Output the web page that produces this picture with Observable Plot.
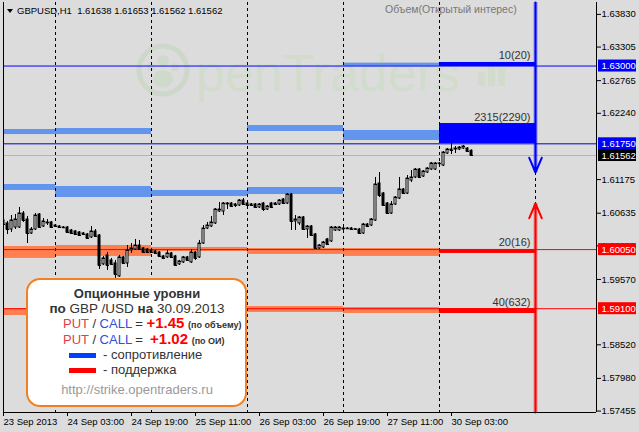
<!DOCTYPE html>
<html><head><meta charset="utf-8">
<script src="https://cdn.jsdelivr.net/npm/d3@7"></script>
<script src="https://cdn.jsdelivr.net/npm/@observablehq/plot@0.6"></script>
<style>
html,body{margin:0;padding:0;background:#dcdcdc;}
#wrap{position:relative;width:639px;height:432px;overflow:hidden;background:#dcdcdc;font-family:"Liberation Sans",Arial,sans-serif;}
#wm{position:absolute;left:0;top:0;}
#chart{position:absolute;left:0;top:0;}
.abs{position:absolute;white-space:nowrap;}
.abs b{line-height:14px;}
</style></head><body>
<div id="wrap">
<svg id="wm" width="639" height="432">
  <g opacity="0.55">
    <circle cx="163" cy="70" r="24" fill="none" stroke="#c4d6bc" stroke-width="5"/>
    <circle cx="163" cy="61" r="6" fill="#c8dac0"/>
    <circle cx="151" cy="67" r="4" fill="#c8dac0"/>
    <circle cx="175" cy="67" r="4" fill="#c8dac0"/>
    <ellipse cx="163" cy="79" rx="10" ry="9" fill="#c8dac0"/>
    <text x="196" y="91" font-family="Liberation Sans, Arial" font-size="52" fill="#cadcc2">penTraders</text>
    <rect x="478" y="72" width="7" height="14" fill="#cadcc2"/>
    <rect x="488" y="64" width="7" height="22" fill="#cadcc2"/>
    <rect x="498" y="68" width="7" height="18" fill="#cadcc2"/>
  </g>
</svg>
<div id="chart"></div>
<div class="abs" style="left:7px;top:9px;width:0;height:0;border-left:3.5px solid transparent;border-right:3.5px solid transparent;border-top:4px solid #000;"></div>
<div class="abs" style="left:17px;top:5px;font-size:9.5px;line-height:12px;color:#000">GBPUSD,H1&nbsp; 1.61638 1.61653 1.61562 1.61562</div>
<div class="abs" style="left:385px;top:3px;font-size:10.5px;line-height:12px;color:#777">Объем(Открытый интерес)</div>

<div class="abs" style="left:26px;top:278px;width:217px;height:125px;border:2.5px solid #f28022;border-radius:14px;background:#fff;"></div>
<div class="abs" style="left:26px;width:222px;top:286px;text-align:center;font-weight:bold;font-size:13px;line-height:16px;color:#333">Опционные уровни</div>
<div class="abs" style="left:26px;width:222px;top:301px;text-align:center;font-size:13.5px;line-height:16px;color:#333"><b>по</b> GBP /USD <b>на</b> 30.09.2013</div>
<div class="abs" style="left:63px;top:316px;font-size:13px;line-height:15px;color:#333"><span style="color:#e04048">PUT</span> / <span style="color:#3050d8">CALL</span> = <b style="color:#ff0000;font-size:15px">+1.45</b> <b style="font-size:9px">(по объему)</b></div>
<div class="abs" style="left:63px;top:332px;font-size:13px;line-height:15px;color:#333"><span style="color:#e04048">PUT</span> / <span style="color:#3050d8">CALL</span> = &nbsp;<b style="color:#ff0000;font-size:15px">+1.02</b> <b style="font-size:9px">(по ОИ)</b></div>
<div class="abs" style="left:69px;top:353px;width:27px;height:5px;background:#0040ff"></div>
<div class="abs" style="left:103px;top:347px;font-size:13px;line-height:16px;color:#333">- сопротивление</div>
<div class="abs" style="left:69px;top:368px;width:27px;height:5px;background:#ff0000"></div>
<div class="abs" style="left:103px;top:362px;font-size:13px;line-height:16px;color:#333">- поддержка</div>
<div class="abs" style="left:26px;width:222px;top:382px;text-align:center;font-size:13px;line-height:16px;color:#999">http://strike.opentraders.ru</div>
</div>
<script>
// Bar index 0 = 24 Sep 2013 00:00 (H1 bars, weekend removed)
const firstBar = -13;
const open = [
1.60518,1.60470,1.60373,1.60405,1.60405,1.60630,1.60534,1.60309,1.60373,1.60614,
1.60421,1.60470,1.60486,1.60437,1.60421,1.60405,1.60405,1.60357,1.60341,1.60325,
1.60309,1.60293,1.60245,1.60341,1.60277,1.59812,1.59956,1.59876,1.59828,1.59619,
1.59924,1.59828,1.60036,1.60052,1.60116,1.60068,1.60052,1.60036,1.60020,1.60004,
1.59940,1.59924,1.59988,1.59940,1.59812,1.59844,1.59924,1.59844,1.60004,1.59924,
1.60148,1.60389,1.60421,1.60470,1.60662,1.60662,1.60775,1.60791,1.60775,1.60759,
1.60839,1.60791,1.60775,1.60775,1.60727,1.60791,1.60694,1.60791,1.60791,1.60775,
1.60855,1.60791,1.60935,1.60502,1.60470,1.60566,1.60373,1.60421,1.60293,1.60068,
1.60084,1.60213,1.60181,1.60357,1.60357,1.60373,1.60389,1.60389,1.60373,1.60373,
1.60309,1.60453,1.60437,1.60518,1.61112,1.60951,1.60791,1.60630,1.60775,1.60871,
1.61016,1.60951,1.61160,1.61209,1.61337,1.61225,1.61289,1.61337,1.61337,1.61434,
1.61401,1.61594,1.61658,1.61658,1.61658,1.61674,1.61674,1.61638];
const high = [
1.60550,1.60502,1.60598,1.60614,1.60727,1.60662,1.60582,1.60405,1.60630,1.60630,
1.60550,1.60534,1.60502,1.60453,1.60437,1.60421,1.60421,1.60373,1.60357,1.60341,
1.60325,1.60309,1.60421,1.60373,1.60293,1.59940,1.60004,1.59908,1.59876,1.59956,
1.59940,1.60116,1.60148,1.60213,1.60197,1.60084,1.60068,1.60052,1.60036,1.60020,
1.59956,1.60036,1.60004,1.59956,1.59876,1.59940,1.59940,1.60052,1.60020,1.60197,
1.60437,1.60486,1.60582,1.60710,1.60807,1.60807,1.60807,1.60807,1.60791,1.60855,
1.60871,1.60807,1.60791,1.60791,1.60791,1.60807,1.60759,1.60807,1.60807,1.60855,
1.60871,1.60951,1.60951,1.60598,1.60582,1.60582,1.60437,1.60437,1.60309,1.60132,
1.60181,1.60229,1.60421,1.60421,1.60421,1.60405,1.60405,1.60405,1.60389,1.60389,
1.60470,1.60470,1.60550,1.61209,1.61289,1.60968,1.60807,1.60823,1.60903,1.61209,
1.61032,1.61241,1.61321,1.61353,1.61353,1.61321,1.61369,1.61450,1.61450,1.61450,
1.61626,1.61674,1.61803,1.61707,1.61707,1.61723,1.61690,1.61653];
const low = [
1.60421,1.60293,1.60325,1.60373,1.60389,1.60486,1.60148,1.60293,1.60357,1.60389,
1.60405,1.60437,1.60389,1.60405,1.60389,1.60389,1.60309,1.60293,1.60277,1.60261,
1.60277,1.60213,1.60229,1.60245,1.59731,1.59795,1.59715,1.59795,1.59587,1.59603,
1.59812,1.59763,1.59988,1.60036,1.60036,1.59988,1.59988,1.59988,1.59972,1.59924,
1.59892,1.59908,1.59908,1.59779,1.59795,1.59828,1.59860,1.59828,1.59876,1.59908,
1.60132,1.60373,1.60405,1.60453,1.60646,1.60598,1.60694,1.60727,1.60727,1.60743,
1.60759,1.60743,1.60743,1.60710,1.60710,1.60662,1.60678,1.60710,1.60759,1.60759,
1.60775,1.60775,1.60357,1.60357,1.60437,1.60357,1.60229,1.60261,1.60052,1.60052,
1.60068,1.60116,1.60164,1.60341,1.60341,1.60357,1.60373,1.60357,1.60357,1.60293,
1.60293,1.60405,1.60421,1.60502,1.60887,1.60743,1.60614,1.60614,1.60759,1.60855,
1.60935,1.60935,1.61128,1.61192,1.61192,1.61209,1.61273,1.61321,1.61321,1.61401,
1.61385,1.61578,1.61578,1.61594,1.61642,1.61658,1.61610,1.61562];
const close = [
1.60453,1.60373,1.60518,1.60534,1.60630,1.60518,1.60309,1.60373,1.60598,1.60405,
1.60502,1.60486,1.60405,1.60421,1.60405,1.60401,1.60325,1.60309,1.60293,1.60277,
1.60293,1.60229,1.60341,1.60261,1.59795,1.59908,1.59795,1.59812,1.59651,1.59924,
1.59828,1.60036,1.60068,1.60116,1.60052,1.60004,1.60004,1.60004,1.59988,1.59940,
1.59908,1.59988,1.59924,1.59795,1.59860,1.59924,1.59876,1.60004,1.59908,1.60148,
1.60389,1.60437,1.60486,1.60694,1.60694,1.60791,1.60791,1.60743,1.60759,1.60839,
1.60775,1.60759,1.60759,1.60727,1.60775,1.60694,1.60743,1.60727,1.60775,1.60839,
1.60791,1.60935,1.60502,1.60534,1.60566,1.60373,1.60421,1.60277,1.60068,1.60116,
1.60164,1.60132,1.60405,1.60405,1.60405,1.60389,1.60385,1.60373,1.60377,1.60309,
1.60453,1.60421,1.60534,1.61096,1.60919,1.60759,1.60630,1.60775,1.60887,1.61016,
1.60951,1.61192,1.61209,1.61337,1.61209,1.61305,1.61353,1.61434,1.61434,1.61430,
1.61610,1.61658,1.61642,1.61674,1.61690,1.61707,1.61626,1.61562];

// option levels: day number (0 = 24 Sep), strike band top/bottom
const currentDay = 4;
const callDay = [-1,-1,0,0,1,2,2,3,3,4,4];
const callHi  = [1.61980,1.61096,1.61996,1.61064,1.61000,1.62044,1.61048,1.63046,1.61964,1.63057,1.62076];
const callLo  = [1.61899,1.61000,1.61899,1.60887,1.60903,1.61948,1.60935,1.62997,1.61803,1.62992,1.61755];
const putDay  = [-1,-1,0,1,2,2,3,3,4,4];
const putHi   = [1.60100,1.59103,1.60116,1.60084,1.60068,1.59135,1.60068,1.59119,1.60052,1.59103];
const putLo   = [1.59908,1.58991,1.59940,1.60020,1.59972,1.59039,1.59940,1.59023,1.59988,1.59023];
const volLabels = ["10(20)","2315(2290)","20(16)","40(632)"];
const volLabelPrice = [1.63057,1.62076,1.60052,1.59103];

const hLines = [1.63000,1.61750,1.61562,1.60050,1.59100];
const hLineColors = ["#0000ff","#0000c8","#b4b4b4","#ff0000","#ff0000"];
const boxColors = ["#0000ff","#0000ff","#000000","#ff0000","#ff0000"];

const daySeparators = [0,24,48,72,96];
const xTickIdx = [-13,3,19,35,51,67,83,99];
const xTickLabels = ["23 Sep 2013","24 Sep 03:00","24 Sep 19:00","25 Sep 11:00","26 Sep 03:00","26 Sep 19:00","27 Sep 11:00","30 Sep 03:00"];
const yTicks = [1.63830,1.63305,1.62765,1.62240,1.61175,1.60635,1.60110,1.59570,1.58520,1.57980,1.57455];

const arrowBar = 120;
const blueArrow = {from: 1.64021, to: 1.61289};
const redArrow = {from: 1.57432, to: 1.60791};

const xDomain = [-13, 135.25];
const yDomain = [1.57432, 1.64021];

const candles = open.map((o,k)=>({i: firstBar+k, o, h: high[k], l: low[k], c: close[k]}));
const calls = callDay.map((d,k)=>({day:d, hi:callHi[k], lo:callLo[k]}));
const puts = putDay.map((d,k)=>({day:d, hi:putHi[k], lo:putLo[k]}));
const hl = hLines.map((v,k)=>({v, color:hLineColors[k], box:boxColors[k]}));
const vlab = volLabels.map((t,k)=>({t, p: volLabelPrice[k]}));

const chart = Plot.plot({
  width: 639, height: 432,
  marginLeft: 3, marginRight: 43, marginTop: 2, marginBottom: 20,
  x: {type: "linear", domain: xDomain, label: null},
  y: {type: "linear", domain: yDomain, label: null},
  style: {background: "transparent", fontFamily: "Liberation Sans, Arial, sans-serif", fontSize: "9.5px", color: "black"},
  marks: [
    Plot.rect(calls, {x1: d=>d.day*24, x2: d=>d.day*24+24, y1: "lo", y2: "hi", fill: d=>d.day===currentDay?"#0000ff":"#6495ed", clip: true}),
    Plot.rect(puts, {x1: d=>d.day*24, x2: d=>d.day*24+24, y1: "lo", y2: "hi", fill: d=>d.day===currentDay?"#ff0000":"#ff7f50", clip: true}),
    Plot.ruleX(daySeparators, {stroke: "black", strokeDasharray: "3,3"}),
    Plot.ruleY(hl, {y: "v", stroke: "color", strokeWidth: 1}),
    Plot.ruleX(candles, {x: "i", y1: "l", y2: "h", stroke: "black", clip: true}),
    Plot.rect(candles, {x1: d=>d.i-0.25, x2: d=>d.i+0.25, y1: "o", y2: "c", fill: d=>d.c>=d.o?"white":"black", stroke: "black", strokeWidth: 1, clip: true}),
    Plot.link(candles, {x1: d=>d.i-0.375, x2: d=>d.i+0.375, y1: "c", y2: "c", stroke: "black", clip: true}),
    // signal arrows
    Plot.ruleX([arrowBar], {y1: blueArrow.from, y2: blueArrow.to, stroke: "#0000ff", strokeOpacity: 0.35, strokeWidth: 4}),
    Plot.arrow([blueArrow], {x1: arrowBar, x2: arrowBar, y1: "from", y2: "to", stroke: "#0000ff", strokeWidth: 2, headLength: 12, headAngle: 46}),
    Plot.ruleX([arrowBar], {y1: blueArrow.to, y2: redArrow.to, stroke: "black", strokeDasharray: "3,3"}),
    Plot.ruleX([arrowBar], {y1: redArrow.from, y2: redArrow.to, stroke: "#ff0000", strokeOpacity: 0.35, strokeWidth: 4}),
    Plot.arrow([redArrow], {x1: arrowBar, x2: arrowBar, y1: "from", y2: "to", stroke: "#ff0000", strokeWidth: 2, headLength: 12, headAngle: 46}),
    Plot.text(vlab, {x: arrowBar, y: "p", text: "t", textAnchor: "end", lineAnchor: "bottom", dx: -5, dy: -3, fontSize: 11, fill: "#333"}),
    // frame lines
    Plot.ruleX([xDomain[0]], {stroke: "black"}),
    Plot.ruleX([xDomain[1]], {stroke: "black"}),
    Plot.ruleY([yDomain[0]], {stroke: "black"}),
    Plot.axisX(xTickIdx, {tickFormat: d=>xTickLabels[xTickIdx.indexOf(d)], tickSize: 4, tickPadding: 2, textAnchor: "start", label: null}),
    Plot.axisY(yTicks, {anchor: "right", tickFormat: d=>d.toFixed(5), tickSize: 4, tickPadding: 1, label: null}),
    // price label boxes on the axis
    Plot.rect(hl, {x1: xDomain[1], x2: xDomain[1], y1: "v", y2: "v", fill: "box", insetLeft: 2, insetRight: -40, insetTop: -6, insetBottom: -6}),
    Plot.text(hl, {x: xDomain[1], y: "v", text: d=>d.v.toFixed(5), fill: "white", textAnchor: "start", dx: 5})
  ]
});
document.getElementById("chart").appendChild(chart);
</script>
</body></html>
